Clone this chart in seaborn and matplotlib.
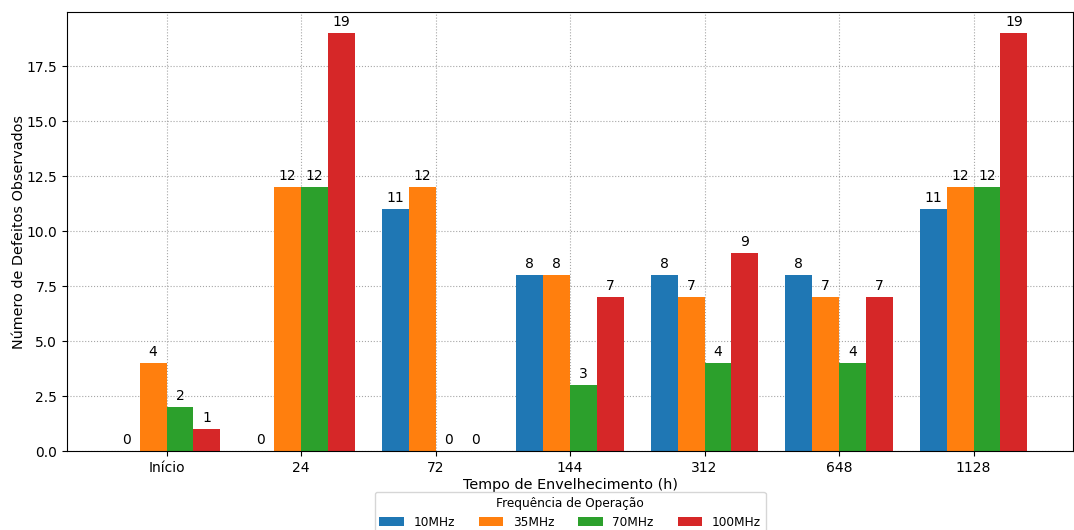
import pandas as pd
import matplotlib
matplotlib.use('Agg')
import matplotlib.pyplot as plt
import seaborn as sns

# Dados do gráfico
tempos = ['Início', '24', '72', '144', '312', '648', '1128']
freqs = ['10MHz', '35MHz', '70MHz', '100MHz']
d_10 = [0, 0, 11, 8, 8, 8, 11]
d_35 = [4, 12, 12, 8, 7, 7, 12]
d_70 = [2, 12, 0, 3, 4, 4, 12]
d_100 = [1, 19, 0, 7, 9, 7, 19]
cores = ['#1f77b4', '#ff7f0e', '#2ca02c', '#d62728']

series = [d_10, d_35, d_70, d_100]
rows = []
for f, vals in zip(freqs, series):
    for t, v in zip(tempos, vals):
        rows.append({'Tempo': t, 'Frequência': f, 'Defeitos': v})
df = pd.DataFrame(rows)

fig = plt.figure(figsize=(10.74, 5.3), dpi=100)
ax = fig.add_axes([0.0624, 0.149, 0.9367, 0.828])

sns.barplot(data=df, x='Tempo', y='Defeitos', hue='Frequência', order=tempos,
            hue_order=freqs, palette=cores, saturation=1, width=0.8, ax=ax)

for c in ax.containers:
    ax.bar_label(c, padding=3, fontsize=10)

ax.set_xlim(-0.74, 6.74)
ax.set_ylim(0, 19.95)
ax.grid(True, linestyle=':', color='gray', alpha=0.7)
ax.set_axisbelow(True)
ax.set_xlabel('Tempo de Envelhecimento (h)', fontsize=10.4, labelpad=2)
ax.set_ylabel('Número de Defeitos Observados', fontsize=10.4, labelpad=0.5)
ax.legend(title='Frequência de Operação', loc='upper center',
          bbox_to_anchor=(0.5, -0.079), ncol=4, fontsize=8.7, title_fontsize=8.7)

fig.savefig('out.png', dpi=100)
